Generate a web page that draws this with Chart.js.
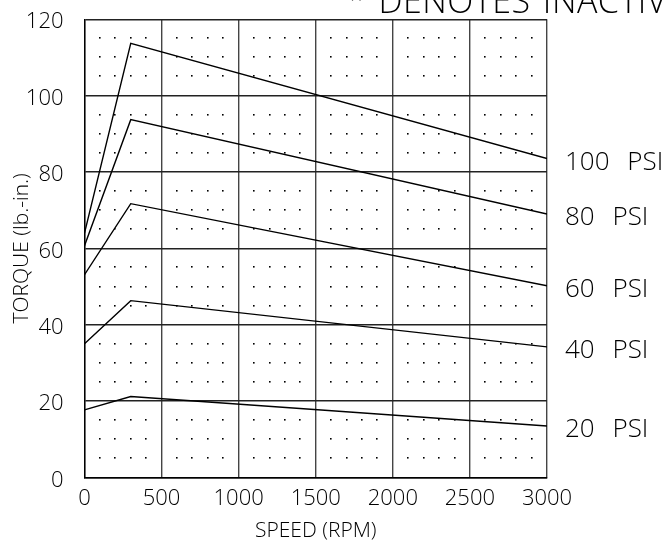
<!DOCTYPE html>
<html>
<head>
<meta charset="utf-8">
<script src="https://cdn.jsdelivr.net/npm/chart.js@4/dist/chart.umd.min.js"></script>
<style>
  html, body { margin: 0; padding: 0; background: #fff; }
  #wrap { width: 668px; height: 546px; }
</style>
</head>
<body>
<div id="wrap"><canvas id="chart"></canvas></div>
<script>
const speeds = [0, 300, 3000];
const psi100 = [64, 113.7, 83.5];
const psi80 = [60.7, 93.7, 69];
const psi60 = [53.1, 71.7, 50.2];
const psi40 = [35, 46.3, 34.2];
const psi20 = [17.7, 21.2, 13.5];
const seriesLabels = ["100 PSI", "80 PSI", "60 PSI", "40 PSI", "20 PSI"];
const series = [psi100, psi80, psi60, psi40, psi20];
const xTicks = [0, 500, 1000, 1500, 2000, 2500, 3000];
const yTicks = [0, 20, 40, 60, 80, 100, 120];
const note = "* DENOTES INACTIVE";

const FONT = "'Open Sans', 'DejaVu Sans', sans-serif";

// dotted minor grid, every 100 rpm and 5 lb-in
const dotGrid = {
  id: "dotGrid",
  beforeDatasetsDraw(chart) {
    const { ctx, scales: { x, y } } = chart;
    ctx.save();
    ctx.fillStyle = "#000";
    for (let s = 100; s < 3000; s += 100) {
      if (s % 500 === 0) continue;
      for (let t = 5; t < 120; t += 5) {
        if (t % 20 === 0) continue;
        const px = Math.round(x.getPixelForValue(s));
        const py = Math.round(y.getPixelForValue(t));
        ctx.fillRect(px - 1, py - 1, 1.6, 1.6);
      }
    }
    ctx.restore();
  }
};

// curve labels at the right end + note at the top
const labelsPlugin = {
  id: "labelsPlugin",
  afterDraw(chart) {
    const { ctx, scales: { x, y } } = chart;
    ctx.save();
    ctx.fillStyle = "#000";
    ctx.font = "300 26px " + FONT;
    ctx.textAlign = "left";
    ctx.textBaseline = "alphabetic";
    ctx.wordSpacing = "11px";
    series.forEach((vals, i) => {
      const py = y.getPixelForValue(vals[vals.length - 1]);
      ctx.fillText(seriesLabels[i], x.right + 18, py + 11);
    });
    ctx.font = "300 34px " + FONT;
    ctx.wordSpacing = "3px";
    ctx.letterSpacing = "0.5px";
    ctx.fillText(note, 347, 13);
    ctx.restore();
  }
};

new Chart(document.getElementById("chart"), {
  type: "line",
  data: {
    datasets: series.map((vals, i) => ({
      label: seriesLabels[i],
      data: speeds.map((s, j) => ({ x: s, y: vals[j] })),
      borderColor: "#000",
      borderWidth: 1.4,
      pointRadius: 0,
      tension: 0,
      fill: false
    }))
  },
  options: {
    responsive: true,
    maintainAspectRatio: false,
    animation: false,
    layout: { padding: { top: 0, right: 121, left: 0, bottom: 0 } },
    plugins: { legend: { display: false }, tooltip: { enabled: false } },
    scales: {
      x: {
        type: "linear",
        min: 0,
        max: 3000,
        afterBuildTicks: (s) => { s.ticks = xTicks.map(v => ({ value: v })); },
        afterFit: (s) => { s.height = 68.5; },
        grid: { color: "#444", lineWidth: 1.4, drawTicks: false },
        border: { color: "#000", width: 1.4 },
        ticks: {
          color: "#000",
          font: { family: FONT, size: 22, weight: 300 },
          padding: 8,
          maxRotation: 0,
          callback: (v) => String(v)
        },
        title: {
          display: true,
          text: "SPEED (RPM)",
          color: "#000",
          font: { family: FONT, size: 21, weight: 300 },
          padding: { top: 6, bottom: 2 }
        }
      },
      y: {
        min: 0,
        max: 120,
        afterBuildTicks: (s) => { s.ticks = yTicks.map(v => ({ value: v })); },
        afterFit: (s) => { s.width = 84.5; },
        grid: { color: "#222", lineWidth: 1.4, drawTicks: true, tickLength: 15, tickColor: "rgba(0,0,0,0)" },
        border: { color: "#000", width: 1.4 },
        ticks: {
          color: "#000",
          font: { family: FONT, size: 22, weight: 300 },
          padding: 6,
          labelOffset: 3,
          callback: (v) => String(v)
        },
        title: {
          display: true,
          text: "TORQUE (lb.-in.)",
          color: "#000",
          font: { family: FONT, size: 21, weight: 300 },
          padding: { top: 9, bottom: 0 }
        }
      }
    }
  },
  plugins: [dotGrid, labelsPlugin]
});
</script>
</body>
</html>
